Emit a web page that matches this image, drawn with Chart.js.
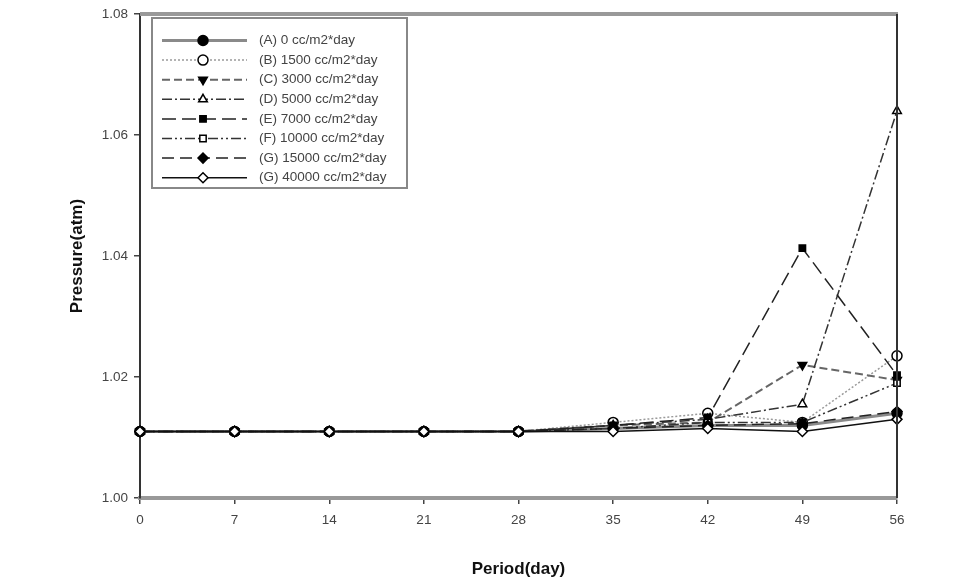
<!DOCTYPE html>
<html>
<head>
<meta charset="utf-8">
<script src="https://cdn.jsdelivr.net/npm/chart.js@4"></script>
<style>
  html, body { margin: 0; padding: 0; background: #fff; }
  #wrap { width: 974px; height: 587px; }
</style>
</head>
<body>
<div id="wrap"><canvas id="c" width="974" height="587"></canvas></div>
<script>
const days = [0, 7, 14, 21, 28, 35, 42, 49, 56]
const yTicks = [1.00, 1.02, 1.04, 1.06, 1.08]
const seriesNames = [
  "(A) 0 cc/m2*day", "(B) 1500 cc/m2*day", "(C) 3000 cc/m2*day", "(D) 5000 cc/m2*day",
  "(E) 7000 cc/m2*day", "(F) 10000 cc/m2*day", "(G) 15000 cc/m2*day", "(G) 40000 cc/m2*day"
]
const seriesA = [1.011, 1.011, 1.011, 1.011, 1.011, 1.0115, 1.012, 1.012, 1.014]
const seriesB = [1.011, 1.011, 1.011, 1.011, 1.011, 1.0125, 1.014, 1.0125, 1.0235]
const seriesC = [1.011, 1.011, 1.011, 1.011, 1.011, 1.012, 1.0125, 1.022, 1.0195]
const seriesD = [1.011, 1.011, 1.011, 1.011, 1.011, 1.012, 1.013, 1.0155, 1.064]
const seriesE = [1.011, 1.011, 1.011, 1.011, 1.011, 1.012, 1.0133, 1.0413, 1.0203]
const seriesF = [1.011, 1.011, 1.011, 1.011, 1.011, 1.0115, 1.0125, 1.0125, 1.019]
const seriesG = [1.011, 1.011, 1.011, 1.011, 1.011, 1.0115, 1.012, 1.0123, 1.0143]
const seriesH = [1.011, 1.011, 1.011, 1.011, 1.011, 1.011, 1.0115, 1.011, 1.013]

const styles = [
  { color: "#8a8a8a", width: 3, dash: [], point: "circle", fill: "#000", rot: 0 },
  { color: "#9a9a9a", width: 1.5, dash: [2, 2], point: "circle", fill: "#fff", rot: 0 },
  { color: "#666", width: 2, dash: [8, 4], point: "triangle", fill: "#000", rot: 180 },
  { color: "#333", width: 1.5, dash: [10, 3, 2, 3], point: "triangle", fill: "#fff", rot: 0 },
  { color: "#222", width: 1.5, dash: [14, 6], point: "rect", fill: "#000", rot: 0 },
  { color: "#333", width: 1.5, dash: [10, 3, 2, 3, 2, 3], point: "rect", fill: "#fff", rot: 0 },
  { color: "#222", width: 1.5, dash: [12, 6], point: "rectRot", fill: "#000", rot: 0 },
  { color: "#111", width: 1.5, dash: [], point: "rectRot", fill: "#fff", rot: 0 }
]
const allSeries = [seriesA, seriesB, seriesC, seriesD, seriesE, seriesF, seriesG, seriesH]

const datasets = allSeries.map((vals, i) => {
  const s = styles[i]
  return {
    label: seriesNames[i],
    data: vals.map((v, j) => ({ x: days[j], y: v })),
    borderColor: s.color,
    borderWidth: s.width,
    borderDash: s.dash,
    pointStyle: s.point,
    pointRotation: s.rot,
    pointRadius: s.point === "rect" ? 4.5 : 5,
    pointBackgroundColor: s.fill,
    pointBorderColor: "#000",
    pointBorderWidth: 1.5,
    fill: false,
    tension: 0,
    clip: false,
    order: allSeries.length - i   // last series on top, like the original
  }
})

// box legend drawn inside plot, like the original
const boxLegend = {
  id: "boxLegend",
  afterDraw(chart) {
    const ctx = chart.ctx
    const a = chart.chartArea
    ctx.save()
    // frame: top gray, right dark
    ctx.strokeStyle = "#999"
    ctx.lineWidth = 4
    ctx.beginPath(); ctx.moveTo(a.left, a.top); ctx.lineTo(a.right + 1, a.top); ctx.stroke()
    ctx.strokeStyle = "#333"
    ctx.lineWidth = 2
    ctx.beginPath(); ctx.moveTo(a.right, a.top); ctx.lineTo(a.right, a.bottom); ctx.stroke()

    ctx.fillStyle = "#fff"
    ctx.fillRect(152, 18, 255, 170)
    ctx.strokeStyle = "#888"
    ctx.lineWidth = 2
    ctx.strokeRect(152, 18, 255, 170)

    chart.data.datasets.forEach((ds, i) => {
      const y = 40.5 + i * 19.6
      ctx.strokeStyle = ds.borderColor
      ctx.lineWidth = ds.borderWidth
      ctx.setLineDash(ds.borderDash)
      ctx.beginPath(); ctx.moveTo(162, y); ctx.lineTo(247, y); ctx.stroke()
      ctx.setLineDash([])
      ctx.fillStyle = ds.pointBackgroundColor
      ctx.strokeStyle = ds.pointBorderColor
      ctx.lineWidth = 1.5
      Chart.helpers.drawPoint(ctx, {
        pointStyle: ds.pointStyle, radius: ds.pointRadius, rotation: ds.pointRotation, borderWidth: 1.5
      }, 203, y)
      ctx.fillStyle = "#444"
      ctx.font = "13.5px 'Liberation Sans', Arial, sans-serif"
      ctx.textBaseline = "middle"
      ctx.fillText(ds.label, 259, y)
    })
    ctx.restore()
  }
}

new Chart(document.getElementById("c"), {
  type: "line",
  data: { datasets },
  plugins: [boxLegend],
  options: {
    responsive: false,
    animation: false,
    layout: { padding: { left: 63, top: 10, right: 77, bottom: 0 } },
    plugins: { legend: { display: false }, tooltip: { enabled: false } },
    scales: {
      x: {
        type: "linear",
        min: 0, max: 56,
        afterBuildTicks: (s) => { s.ticks = days.map(v => ({ value: v })) },
        afterFit: (s) => { s.height = 89 },
        border: { color: "#999", width: 4 },
        grid: { drawOnChartArea: false, drawTicks: true, tickLength: 6, color: "#444", lineWidth: 1.5 },
        ticks: { color: "#444", font: { family: "'Liberation Sans', Arial", size: 13.5 }, padding: 8 },
        title: {
          display: true, text: "Period(day)", color: "#111",
          font: { family: "'Liberation Sans', Arial", size: 17, weight: "bold" }, padding: { top: 0, bottom: 7 }
        }
      },
      y: {
        min: 1.00, max: 1.08,
        afterBuildTicks: (s) => { s.ticks = yTicks.map(v => ({ value: v })) },
        afterFit: (s) => { s.width = 77 },
        border: { color: "#333", width: 2 },
        grid: { drawOnChartArea: false, drawTicks: true, tickLength: 6, color: "#444", lineWidth: 1.5 },
        ticks: {
          color: "#444", font: { family: "'Liberation Sans', Arial", size: 13.5 }, padding: 6,
          callback: (v) => v.toFixed(2)
        },
        title: {
          display: true, text: "Pressure(atm)", color: "#111",
          font: { family: "'Liberation Sans', Arial", size: 17, weight: "bold" }, padding: { top: 4, bottom: 4 }
        }
      }
    }
  }
})
</script>
</body>
</html>
